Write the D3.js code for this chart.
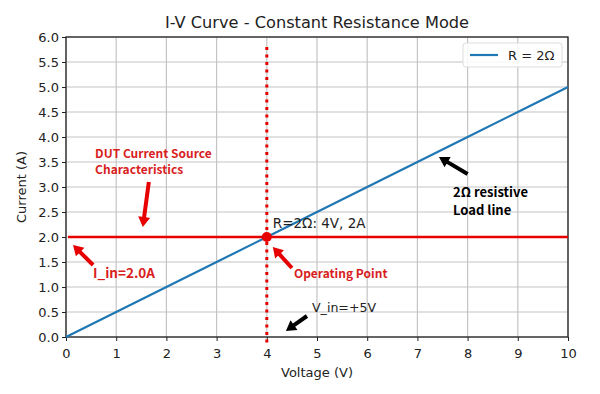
<!DOCTYPE html>
<html>
<head>
<meta charset="utf-8">
<script src="https://cdn.jsdelivr.net/npm/d3@7"></script>
<style>
body{margin:0;background:#fff;}
text{font-family:"DejaVu Sans",sans-serif;}
</style>
</head>
<body>
<script>
// data
var voltage=[0,1,2,3,4,5,6,7,8,9,10];
var current=[0,0.5,1,1.5,2,2.5,3,3.5,4,4.5,5];
var sourceCurrent=2.0;
var opPoint=[4,2];
var vLineRange=[-0.2,5.8];
var xTicks=[0,1,2,3,4,5,6,7,8,9,10];
var yTicks=[0,0.5,1,1.5,2,2.5,3,3.5,4,4.5,5,5.5,6];

// annotations (data units)
var arrowFrom=[[1.65,3.1],[0.54,1.44],[4.5,1.38],[4.8,0.42],[8.0,3.26]];
var arrowTo=[[1.53,2.2],[0.14,1.84],[4.12,1.8],[4.38,0.12],[7.43,3.6]];
var labelAt=[[0.58,3.58],[0.54,1.18],[4.54,1.18],[7.71,2.8],[4.12,2.18],[4.9,0.5]];
var labelText=[["DUT Current Source","Characteristics"],["I_in=2.0A"],["Operating Point"],
  ["2Ω resistive","Load line"],["R=2Ω: 4V, 2A"],["V_in=+5V"]];

var red="#e60000", redText="#d81e1e", ink="#222";
var arrowColor=[red,red,red,"#000","#000"];
var labelStyle=[
  {c:redText,s:12,b:true},{c:redText,s:13.5,b:true},{c:redText,s:12,b:true},
  {c:"#000",s:13,b:true},{c:ink,s:13.5,b:false},{c:ink,s:12.6,b:false}
];

var width=600, height=394;
var margin={left:66, right:32, top:37, bottom:57};

var svg=d3.select("body").append("svg").attr("width",width).attr("height",height);

var x=d3.scaleLinear().domain([0,10]).range([margin.left,width-margin.right]);
var y=d3.scaleLinear().domain([0,6]).range([height-margin.bottom,margin.top]);

// grid
svg.append("g").selectAll("line").data(xTicks).enter().append("line")
  .attr("x1",d=>x(d)).attr("x2",d=>x(d)).attr("y1",y(0)).attr("y2",y(6))
  .attr("stroke","#c4c4c4").attr("stroke-width",1.2);
svg.append("g").selectAll("line").data(yTicks).enter().append("line")
  .attr("x1",x(0)).attr("x2",x(10)).attr("y1",d=>y(d)).attr("y2",d=>y(d))
  .attr("stroke","#c4c4c4").attr("stroke-width",1.2);

// axes
var xAxis=svg.append("g").attr("transform","translate(0,"+y(0)+")")
  .call(d3.axisBottom(x).tickValues(xTicks).tickFormat(d3.format("d")).tickSize(4).tickSizeOuter(0));
var yAxis=svg.append("g").attr("transform","translate("+x(0)+",0)")
  .call(d3.axisLeft(y).tickValues(yTicks).tickFormat(d3.format(".1f")).tickSize(4).tickSizeOuter(0));
[xAxis,yAxis].forEach(function(a){
  a.select(".domain").remove();
  a.selectAll("text").attr("font-size",13).attr("fill",ink).attr("font-family","DejaVu Sans");
  a.selectAll("line").attr("stroke",ink);
});
xAxis.selectAll("text").attr("dy","1.05em");

// frame
svg.append("rect").attr("x",x(0)).attr("y",y(6)).attr("width",x(10)-x(0)).attr("height",y(0)-y(6))
  .attr("fill","none").attr("stroke",ink).attr("stroke-width",1.3);

// resistive load line
svg.append("path").datum(voltage)
  .attr("d",d3.line().x(d=>x(d)).y((d,i)=>y(current[i])))
  .attr("fill","none").attr("stroke","#1f77b4").attr("stroke-width",2.2);

// current source line
svg.append("line").attr("x1",x(0.04)).attr("x2",x(10)).attr("y1",y(sourceCurrent)).attr("y2",y(sourceCurrent))
  .attr("stroke",red).attr("stroke-width",2.6);

// vertical dotted V_in line
svg.append("line").attr("x1",x(opPoint[0])).attr("x2",x(opPoint[0]))
  .attr("y1",y(vLineRange[1])).attr("y2",y(vLineRange[0]))
  .attr("stroke",red).attr("stroke-width",3).attr("stroke-dasharray","3,4.5");

// operating point
svg.append("circle").attr("cx",x(opPoint[0])).attr("cy",y(opPoint[1])).attr("r",5).attr("fill",red);

// fat arrows
function arrowPath(i){
  var x0=x(arrowFrom[i][0]), y0=y(arrowFrom[i][1]), x1=x(arrowTo[i][0]), y1=y(arrowTo[i][1]);
  var dx=x1-x0, dy=y1-y0, len=Math.sqrt(dx*dx+dy*dy);
  var ux=dx/len, uy=dy/len, nx=-uy, ny=ux;
  var hl=10, hw=6, sw=2;
  var bx=x1-ux*hl, by=y1-uy*hl;
  var p=[[x0+nx*sw,y0+ny*sw],[bx+nx*sw,by+ny*sw],[bx+nx*hw,by+ny*hw],[x1,y1],
         [bx-nx*hw,by-ny*hw],[bx-nx*sw,by-ny*sw],[x0-nx*sw,y0-ny*sw]];
  return "M"+p.map(q=>q.join(",")).join("L")+"Z";
}
svg.append("g").selectAll("path").data(d3.range(arrowFrom.length)).enter().append("path")
  .attr("d",arrowPath).attr("fill",i=>arrowColor[i]);

// annotation labels
var lab=svg.append("g").selectAll("text").data(d3.range(labelAt.length)).enter().append("text")
  .attr("x",i=>x(labelAt[i][0])).attr("y",i=>y(labelAt[i][1]))
  .attr("fill",i=>labelStyle[i].c)
  .attr("font-size",i=>labelStyle[i].s)
  .attr("font-weight",i=>labelStyle[i].b?"bold":"normal")
  .style("font-family",i=>labelStyle[i].b?"'Noto Sans CJK SC',sans-serif":"'DejaVu Sans',sans-serif");
lab.selectAll("tspan").data(i=>labelText[i]).enter().append("tspan")
  .attr("x",function(){return d3.select(this.parentNode).attr("x");})
  .attr("dy",(d,j)=>j?"1.35em":0)
  .text(d=>d);

// legend
var lg=svg.append("g").attr("transform","translate("+(x(10)-105)+","+(y(6)+6)+")");
lg.append("rect").attr("width",99).attr("height",24).attr("rx",3)
  .attr("fill","#fff").attr("fill-opacity",0.85).attr("stroke","#ddd");
lg.append("line").attr("x1",7).attr("x2",35).attr("y1",12).attr("y2",12)
  .attr("stroke","#1f77b4").attr("stroke-width",2.2);
lg.append("text").attr("x",45).attr("y",17).attr("font-size",13).attr("fill",ink).text("R = 2Ω");

// title and axis labels
svg.append("text").attr("x",(x(0)+x(10))/2).attr("y",28).attr("text-anchor","middle")
  .attr("font-size",16.2).attr("fill",ink).text("I-V Curve - Constant Resistance Mode");
svg.append("text").attr("x",(x(0)+x(10))/2).attr("y",377).attr("text-anchor","middle")
  .attr("font-size",13).attr("fill",ink).text("Voltage (V)");
svg.append("text").attr("transform","translate(26,"+((y(0)+y(6))/2)+") rotate(-90)")
  .attr("text-anchor","middle").attr("font-size",13).attr("fill",ink).text("Current (A)");
</script>
</body>
</html>
